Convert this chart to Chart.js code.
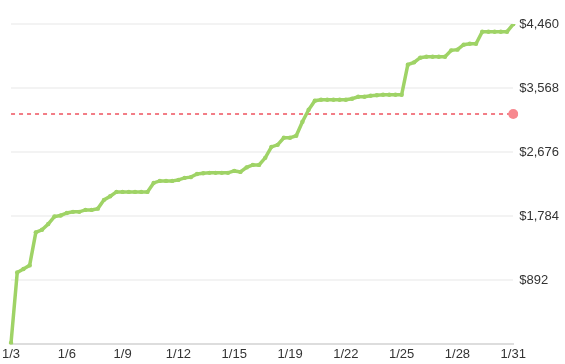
<!DOCTYPE html>
<html>
<head>
<meta charset="utf-8">
<script src="https://cdn.jsdelivr.net/npm/chart.js@4.4.1/dist/chart.umd.min.js"></script>
<style>
  html, body { margin: 0; padding: 0; background: #fff; }
  #wrap { width: 565px; height: 364px; }
</style>
</head>
<body>
<div id="wrap"><canvas id="chartRevenue"></canvas></div>
<script>
// fechas que aparecen en el eje x (una cada 9 puntos)
const tickDates = ["1/3", "1/6", "1/9", "1/12", "1/15", "1/19", "1/22", "1/25", "1/28", "1/31"];
const pointsPerTick = 9;

// ingreso acumulado
const revenue = [
  20, 1000, 1050, 1100, 1560, 1595, 1675, 1780, 1795,
  1830, 1845, 1845, 1872, 1872, 1890, 2012, 2062, 2123,
  2123, 2123, 2123, 2123, 2123, 2248, 2276, 2276, 2276,
  2290, 2318, 2328, 2373, 2382, 2388, 2388, 2388, 2388,
  2415, 2401, 2464, 2499, 2499, 2597, 2750, 2778, 2876,
  2876, 2904, 3099, 3266, 3392, 3406, 3406, 3406, 3406,
  3406, 3420, 3447, 3447, 3461, 3468, 3475, 3475, 3475,
  3475, 3894, 3926, 3991, 4005, 4005, 4005, 4005, 4093,
  4103, 4172, 4186, 4186, 4353, 4353, 4353, 4353, 4353,
  4458
];

const target = 3206;
const yTicks = [892, 1784, 2676, 3568, 4460];

const labels = revenue.map((_, i) => i % pointsPerTick === 0 ? tickDates[i / pointsPerTick] : "");
const last = revenue.length - 1;

const green = "#9fd366";
const red = "#f27d86";
const font = { family: "'Liberation Sans', Arial, sans-serif", size: 13 };

new Chart(document.getElementById("chartRevenue"), {
  type: "line",
  data: {
    labels,
    datasets: [
      {
        label: "Ingresos",
        data: revenue,
        borderColor: green,
        backgroundColor: green,
        borderWidth: 3.5,
        pointRadius: 2.2,
        pointBorderWidth: 0,
        tension: 0
      },
      {
        label: "Meta",
        data: labels.map(() => target),
        borderColor: red,
        backgroundColor: "#f7888f",
        borderWidth: 2,
        borderDash: [4, 4],
        pointRadius: ctx => ctx.dataIndex === last ? 5 : 0,
        pointBorderWidth: 0,
        tension: 0
      }
    ]
  },
  options: {
    responsive: true,
    maintainAspectRatio: false,
    animation: false,
    layout: { padding: { left: 5, right: 0, top: 24, bottom: 0 } },
    plugins: { legend: { display: false }, tooltip: { enabled: false } },
    scales: {
      x: {
        grid: { display: false, drawTicks: false },
        border: { color: "#dddddd", width: 2 },
        ticks: { autoSkip: false, maxRotation: 0, padding: 2, color: "#333", font }
      },
      y: {
        position: "right",
        min: 0,
        max: 4460,
        afterBuildTicks: axis => { axis.ticks = [0, ...yTicks].map(v => ({ value: v })); },
        grid: { color: "#f3f3f3", lineWidth: 2, drawTicks: false },
        border: { display: false },
        ticks: {
          padding: 6,
          color: "#333",
          font,
          callback: v => v === 0 ? "" : "$" + v.toLocaleString("en-US")
        }
      }
    }
  }
});
</script>
</body>
</html>
